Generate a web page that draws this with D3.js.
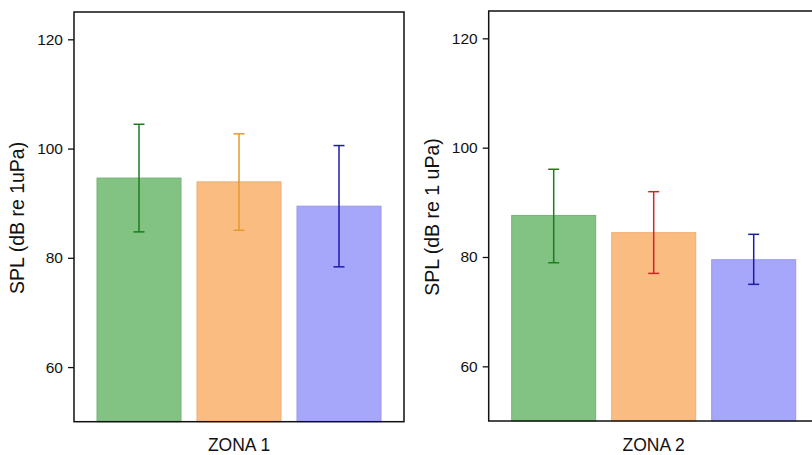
<!DOCTYPE html>
<html><head><meta charset="utf-8">
<script src="https://cdn.jsdelivr.net/npm/d3@7"></script>
<style>
html,body{margin:0;padding:0;background:#fff;}
svg{display:block;font-family:"Liberation Sans",Arial,sans-serif;}
</style></head>
<body>
<svg id="chart" width="812" height="455"></svg>
<script>
const categories = ["A", "B", "C"];
const zona1Means = [94.6, 93.9, 89.45];
const zona1Upper = [104.45, 102.7, 100.55];
const zona1Lower = [84.75, 85.05, 78.35];
const zona2Means = [87.6, 84.45, 79.5];
const zona2Upper = [96.05, 91.95, 84.15];
const zona2Lower = [78.95, 77.0, 75.0];
const yTicks = [60, 80, 100, 120];
const panelTitles = ["ZONA 1", "ZONA 2"];
const yLabels = ["SPL (dB re 1uPa)", "SPL (dB re 1 uPa)"];
const barFill = ["#82c282", "#fbbc82", "#a6a6fb"];
const barStroke = ["#74b474", "#eeae74", "#9898ee"];
const errColors1 = ["#1b7d1b", "#e39a2c", "#1c1caa"];
const errColors2 = ["#1b7d1b", "#d42424", "#1c1caa"];

const svg = d3.select("#chart");

const panels = [
  {x0: 74, x1: 404, top: 12, bottom: 421.7, means: zona1Means, up: zona1Upper, lo: zona1Lower, err: errColors1, title: panelTitles[0], ylab: yLabels[0], labX: 18},
  {x0: 488.7, x1: 818.7, top: 11, bottom: 421, means: zona2Means, up: zona2Upper, lo: zona2Lower, err: errColors2, title: panelTitles[1], ylab: yLabels[1], labX: 433}
];

panels.forEach(p => {
  const g = svg.append("g");
  const y = d3.scaleLinear().domain([50, 125]).range([p.bottom, p.top]);
  const x = d3.scaleBand().domain(categories).range([p.x0, p.x1]).paddingInner(0.16).paddingOuter(0.23);

  g.selectAll("rect.bar").data(categories).join("rect")
    .attr("class", "bar")
    .attr("x", d => x(d))
    .attr("width", x.bandwidth())
    .attr("y", (d, i) => y(p.means[i]))
    .attr("height", (d, i) => y(50) - y(p.means[i]))
    .attr("fill", (d, i) => barFill[i])
    .attr("stroke", (d, i) => barStroke[i])
    .attr("stroke-width", 1);

  const capW = 11;
  categories.forEach((c, i) => {
    const cx = x(c) + x.bandwidth() / 2;
    const col = p.err[i];
    g.append("line").attr("x1", cx).attr("x2", cx).attr("y1", y(p.up[i])).attr("y2", y(p.lo[i]))
      .attr("stroke", col).attr("stroke-width", 1.5);
    [p.up[i], p.lo[i]].forEach(v => {
      g.append("line").attr("x1", cx - capW / 2).attr("x2", cx + capW / 2).attr("y1", y(v)).attr("y2", y(v))
        .attr("stroke", col).attr("stroke-width", 1.5);
    });
  });

  // frame
  g.append("rect").attr("x", p.x0).attr("y", p.top).attr("width", p.x1 - p.x0).attr("height", p.bottom - p.top)
    .attr("fill", "none").attr("stroke", "#111").attr("stroke-width", 1.5);

  const ax = g.append("g").attr("transform", `translate(${p.x0},0)`)
    .call(d3.axisLeft(y).tickValues(yTicks).tickSize(6).tickPadding(5).tickFormat(d3.format("d")));
  ax.select(".domain").remove();
  ax.selectAll(".tick line").attr("stroke", "#111").attr("stroke-width", 1.3);
  ax.selectAll(".tick text").attr("font-size", 15.5).attr("fill", "#111")
    .attr("font-family", "'Liberation Sans', Arial, sans-serif");

  g.append("text").attr("x", (p.x0 + p.x1) / 2).attr("y", 451)
    .attr("text-anchor", "middle").attr("font-size", 17.5).attr("fill", "#111").text(p.title);

  g.append("text").attr("transform", `translate(${p.labX + 6},${(p.top + p.bottom) / 2 + 1}) rotate(-90)`)
    .attr("text-anchor", "middle").attr("font-size", 19.5).attr("fill", "#111").text(p.ylab);
});
</script>
</body></html>
